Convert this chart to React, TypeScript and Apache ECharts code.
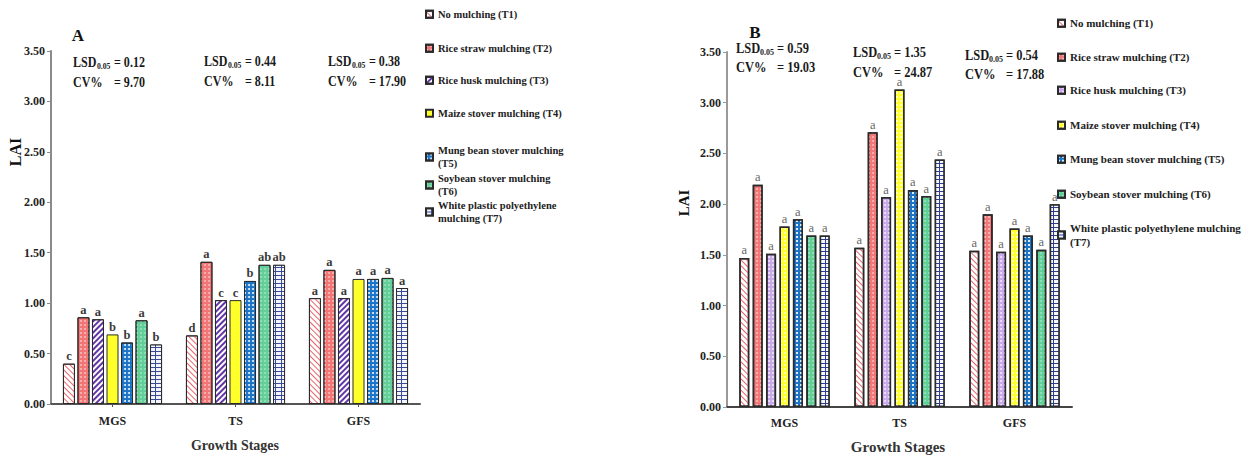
import React, { useEffect, useRef } from 'react';
import * as echarts from 'echarts';

// ---------- data ----------
const stages = ['MGS', 'TS', 'GFS'];
const treatments = [
  'No mulching (T1)',
  'Rice straw mulching (T2)',
  'Rice husk mulching (T3)',
  'Maize stover mulching (T4)',
  'Mung bean stover mulching (T5)',
  'Soybean stover mulching (T6)',
  'White plastic polyethylene mulching (T7)',
];
const legendLabelsA = [
  'No mulching (T1)',
  'Rice straw mulching (T2)',
  'Rice husk mulching (T3)',
  'Maize stover mulching (T4)',
  'Mung bean stover mulching\n(T5)',
  'Soybean stover mulching\n(T6)',
  'White plastic polyethylene\nmulching (T7)',
];
const legendLabelsB = [
  'No mulching (T1)',
  'Rice straw mulching (T2)',
  'Rice husk mulching (T3)',
  'Maize stover mulching (T4)',
  'Mung bean stover mulching (T5)',
  'Soybean stover mulching (T6)',
  'White plastic polyethylene mulching\n(T7)',
];

// Panel A
const laiA_T1 = [0.40, 0.68, 1.05];
const laiA_T2 = [0.86, 1.41, 1.33];
const laiA_T3 = [0.84, 1.03, 1.05];
const laiA_T4 = [0.69, 1.03, 1.24];
const laiA_T5 = [0.61, 1.22, 1.24];
const laiA_T6 = [0.83, 1.38, 1.25];
const laiA_T7 = [0.59, 1.38, 1.15];
const lettersA_T1 = ['c', 'd', 'a'];
const lettersA_T2 = ['a', 'a', 'a'];
const lettersA_T3 = ['a', 'c', 'a'];
const lettersA_T4 = ['b', 'c', 'a'];
const lettersA_T5 = ['b', 'b', 'a'];
const lettersA_T6 = ['a', 'ab', 'a'];
const lettersA_T7 = ['b', 'ab', 'a'];
const lsdA = ['0.12', '0.44', '0.38'];
const cvA = ['9.70', '8.11', '17.90'];

// Panel B
const laiB_T1 = [1.47, 1.57, 1.54];
const laiB_T2 = [2.19, 2.71, 1.90];
const laiB_T3 = [1.51, 2.07, 1.53];
const laiB_T4 = [1.78, 3.13, 1.76];
const laiB_T5 = [1.85, 2.14, 1.69];
const laiB_T6 = [1.69, 2.08, 1.55];
const laiB_T7 = [1.69, 2.44, 2.00];
const lettersB_T1 = ['a', 'a', 'a'];
const lettersB_T2 = ['a', 'a', 'a'];
const lettersB_T3 = ['a', 'a', 'a'];
const lettersB_T4 = ['a', 'a', 'a'];
const lettersB_T5 = ['a', 'a', 'a'];
const lettersB_T6 = ['a', 'a', 'a'];
const lettersB_T7 = ['a', 'a', 'a'];
const lsdB = ['0.59', '1.35', '0.54'];
const cvB = ['19.03', '24.87', '17.88'];

const yMin = 0;
const yMax = 3.5;
const yStep = 0.5;

// ---------- styles ----------
const SERIF = "'Liberation Serif', 'DejaVu Serif', serif";

const stylesA: any[] = [
  { color: '#ffffff', decal: { symbol: 'rect', color: '#e8646b', dashArrayX: [1, 0], dashArrayY: [0.9, 2.6], rotation: Math.PI / 4, symbolSize: 1 } },
  { color: '#f27474', decal: { symbol: 'circle', color: 'rgba(255,255,255,0.5)', dashArrayX: [[1.5, 1.5]], dashArrayY: [1.5, 1.5], symbolSize: 1 } },
  { color: '#ffffff', decal: { symbol: 'rect', color: '#6234a6', dashArrayX: [1, 0], dashArrayY: [2, 2], rotation: -Math.PI / 4, symbolSize: 1 } },
  { color: '#ffff2a' },
  { color: '#1b74c6', decal: { symbol: 'circle', color: 'rgba(255,255,255,0.9)', dashArrayX: [[2, 2]], dashArrayY: [2, 2], symbolSize: 1 } },
  { color: '#62cf98', decal: { symbol: 'circle', color: 'rgba(255,255,255,0.35)', dashArrayX: [[1.5, 1.5]], dashArrayY: [1.5, 1.5], symbolSize: 1 } },
  { color: '#3a4b96', decal: { symbol: 'rect', color: '#f3f5fb', dashArrayX: [[5, 1]], dashArrayY: [3, 1], symbolSize: 1 } },
];
const stylesB: any[] = [
  { color: '#ffffff', decal: { symbol: 'rect', color: '#e8646b', dashArrayX: [1, 0], dashArrayY: [0.9, 2.6], rotation: Math.PI / 4, symbolSize: 1 } },
  { color: '#f47676', decal: { symbol: 'circle', color: 'rgba(255,255,255,0.5)', dashArrayX: [[1.5, 1.5]], dashArrayY: [1.5, 1.5], symbolSize: 1 } },
  { color: '#c9a9ec', decal: { symbol: 'circle', color: 'rgba(255,255,255,0.7)', dashArrayX: [[1.5, 1.5]], dashArrayY: [1.5, 1.5], symbolSize: 1 } },
  { color: '#ffff33', decal: { symbol: 'rect', color: 'rgba(255,255,255,0.6)', dashArrayX: [[2, 2]], dashArrayY: [2, 2], symbolSize: 1 } },
  { color: '#1b74c6', decal: { symbol: 'rect', color: 'rgba(255,255,255,0.85)', dashArrayX: [[2, 2]], dashArrayY: [2, 2], symbolSize: 1 } },
  { color: '#5fd096', decal: { symbol: 'circle', color: 'rgba(255,255,255,0.35)', dashArrayX: [[1.5, 1.5]], dashArrayY: [1.5, 1.5], symbolSize: 1 } },
  { color: '#2f3f8e', decal: { symbol: 'rect', color: '#f5f7fc', dashArrayX: [[5, 1]], dashArrayY: [3, 1], symbolSize: 1 } },
];

type Panel = {
  values: number[][];
  letters: string[][];
  lsd: string[];
  cv: string[];
  styles: any[];
  legendLabels: string[];
  title: string;
  grid: { left: number; top: number; width: number; height: number };
  barWidth: number;
  barGap: string;
  legendLeft: number;
  legendTops: number[];
  legendFont: number;
  statPos: { x: number; y1: number; y2: number }[];
  statFont: number;
  titlePos: [number, number];
  laiPos: [number, number];
  laiFont: number;
  xNamePos: [number, number];
  xNameFont: number;
  letterColor: string;
  letterWeight: string;
  yAxisColor: string;
  xAxisColor: string;
  xTicks: boolean;
  xLabelMargin: number;
  borderWidth: number;
};

const panelA: Panel = {
  values: [laiA_T1, laiA_T2, laiA_T3, laiA_T4, laiA_T5, laiA_T6, laiA_T7],
  letters: [lettersA_T1, lettersA_T2, lettersA_T3, lettersA_T4, lettersA_T5, lettersA_T6, lettersA_T7],
  lsd: lsdA,
  cv: cvA,
  styles: stylesA,
  legendLabels: legendLabelsA,
  title: 'A',
  grid: { left: 51, top: 51, width: 369, height: 353 },
  barWidth: 12,
  barGap: '21%',
  legendLeft: 425,
  legendTops: [7.5, 41.5, 73.5, 106.5, 143.5, 171.5, 198.5],
  legendFont: 10.5,
  statPos: [
    { x: 73, y1: 62, y2: 82 },
    { x: 204, y1: 61, y2: 81 },
    { x: 328, y1: 61, y2: 81 },
  ],
  statFont: 14,
  titlePos: [78, 35],
  laiPos: [15, 152],
  laiFont: 16,
  xNamePos: [235, 445],
  xNameFont: 14,
  letterColor: '#3a3a3a',
  letterWeight: 'bold',
  yAxisColor: '#8a8a8a',
  xAxisColor: '#555555',
  xTicks: true,
  xLabelMargin: 11,
  borderWidth: 1,
};

const panelB: Panel = {
  values: [laiB_T1, laiB_T2, laiB_T3, laiB_T4, laiB_T5, laiB_T6, laiB_T7],
  letters: [lettersB_T1, lettersB_T2, lettersB_T3, lettersB_T4, lettersB_T5, lettersB_T6, lettersB_T7],
  lsd: lsdB,
  cv: cvB,
  styles: stylesB,
  legendLabels: legendLabelsB,
  title: 'B',
  grid: { left: 87, top: 52, width: 345, height: 355 },
  barWidth: 10,
  barGap: '34%',
  legendLeft: 417,
  legendTops: [16.5, 50.5, 83.5, 118.5, 152.5, 187.5, 221.5],
  legendFont: 11,
  statPos: [
    { x: 96, y1: 48, y2: 67 },
    { x: 213, y1: 52, y2: 72 },
    { x: 325, y1: 55, y2: 74 },
  ],
  statFont: 14.5,
  titlePos: [115, 32],
  laiPos: [44, 203],
  laiFont: 15,
  xNamePos: [258, 447],
  xNameFont: 15,
  letterColor: '#666666',
  letterWeight: 'normal',
  yAxisColor: '#9a9a9a',
  xAxisColor: '#444444',
  xTicks: false,
  xLabelMargin: 10,
  borderWidth: 1.5,
};

function statTexts(p: Panel): any[] {
  const els: any[] = [];
  const bold = { fontFamily: SERIF, fontWeight: 'bold', fill: '#1a1a1a' };
  const sx = 0.86;
  p.statPos.forEach((pos, i) => {
    els.push({ type: 'text', x: pos.x, y: pos.y1, scaleX: sx, style: { ...bold, text: 'LSD', fontSize: p.statFont, verticalAlign: 'middle', align: 'left' } });
    els.push({ type: 'text', x: pos.x + 24, y: pos.y1 + 4, scaleX: sx, style: { ...bold, text: '0.05', fontSize: p.statFont * 0.64, verticalAlign: 'middle', align: 'left' } });
    els.push({ type: 'text', x: pos.x + 41, y: pos.y1, scaleX: sx, style: { ...bold, text: '= ' + p.lsd[i], fontSize: p.statFont, verticalAlign: 'middle', align: 'left' } });
    els.push({ type: 'text', x: pos.x, y: pos.y2, scaleX: sx, style: { ...bold, text: 'CV%', fontSize: p.statFont, verticalAlign: 'middle', align: 'left' } });
    els.push({ type: 'text', x: pos.x + 41, y: pos.y2, scaleX: sx, style: { ...bold, text: '= ' + p.cv[i], fontSize: p.statFont, verticalAlign: 'middle', align: 'left' } });
  });
  return els;
}

function buildOption(p: Panel): any {
  const series = treatments.map((name, i) => ({
    type: 'bar',
    name,
    data: p.values[i],
    barWidth: p.barWidth,
    barGap: p.barGap,
    itemStyle: { ...p.styles[i], borderColor: '#2a2a2a', borderWidth: p.borderWidth },
    label: {
      show: true,
      position: 'top',
      distance: 1,
      formatter: (prm: any) => p.letters[i][prm.dataIndex],
      fontFamily: SERIF,
      fontWeight: p.letterWeight,
      fontSize: 12.5,
      color: p.letterColor,
    },
  }));

  const legend = treatments.map((name, i) => ({
    data: [name],
    left: p.legendLeft,
    top: p.legendTops[i],
    padding: 0,
    icon: 'rect',
    itemWidth: 7,
    itemHeight: 7,
    itemGap: 3,
    selectedMode: false,
    formatter: () => p.legendLabels[i],
    textStyle: {
      fontFamily: SERIF,
      fontWeight: 'bold',
      fontSize: p.legendFont,
      color: '#222',
      lineHeight: 13.5,
      padding: [0, 0, 0, 0],
    },
  }));

  const graphics: any[] = [
    ...statTexts(p),
    {
      type: 'text', x: p.titlePos[0], y: p.titlePos[1],
      style: { text: p.title, fontFamily: SERIF, fontWeight: 'bold', fontSize: 17, fill: '#111', align: 'center', verticalAlign: 'middle' },
    },
    {
      type: 'text', x: p.laiPos[0], y: p.laiPos[1], rotation: Math.PI / 2,
      style: { text: 'LAI', fontFamily: SERIF, fontWeight: 'bold', fontSize: p.laiFont, fill: '#111', align: 'center', verticalAlign: 'middle' },
    },
    {
      type: 'text', x: p.xNamePos[0], y: p.xNamePos[1],
      style: { text: 'Growth Stages', fontFamily: SERIF, fontWeight: 'bold', fontSize: p.xNameFont, fill: '#333', align: 'center', verticalAlign: 'middle' },
    },
  ];

  return {
    animation: false,
    backgroundColor: '#ffffff',
    grid: { ...p.grid, containLabel: false },
    legend,
    xAxis: {
      type: 'category',
      data: stages,
      axisLine: { lineStyle: { color: p.xAxisColor, width: 2 } },
      axisTick: { show: p.xTicks, alignWithLabel: true, length: 3, lineStyle: { color: '#555' } },
      axisLabel: { fontFamily: SERIF, fontWeight: 'bold', fontSize: 12, color: '#222', margin: p.xLabelMargin },
    },
    yAxis: {
      type: 'value',
      min: yMin,
      max: yMax,
      interval: yStep,
      splitLine: { show: false },
      axisLine: { show: true, lineStyle: { color: p.yAxisColor, width: 2 } },
      axisTick: { show: true, length: 4, lineStyle: { color: p.yAxisColor } },
      axisLabel: {
        fontFamily: SERIF, fontWeight: 'bold', fontSize: 12, color: '#222', margin: 6,
        formatter: (v: number) => v.toFixed(2),
      },
    },
    series,
    graphic: graphics,
  };
}

export default function App() {
  const refA = useRef<HTMLDivElement>(null);
  const refB = useRef<HTMLDivElement>(null);
  useEffect(() => {
    const a = echarts.init(refA.current as HTMLDivElement, null, { renderer: 'svg' });
    const b = echarts.init(refB.current as HTMLDivElement, null, { renderer: 'svg' });
    a.setOption(buildOption(panelA));
    b.setOption(buildOption(panelB));
    return () => {
      a.dispose();
      b.dispose();
    };
  }, []);
  return (
    <div style={{ position: 'absolute', left: 0, top: 0, width: 1250, height: 456, background: '#fff' }}>
      <div ref={refA} style={{ position: 'absolute', left: 0, top: 0, width: 640, height: 456 }} />
      <div ref={refB} style={{ position: 'absolute', left: 640, top: 0, width: 610, height: 456 }} />
    </div>
  );
}
